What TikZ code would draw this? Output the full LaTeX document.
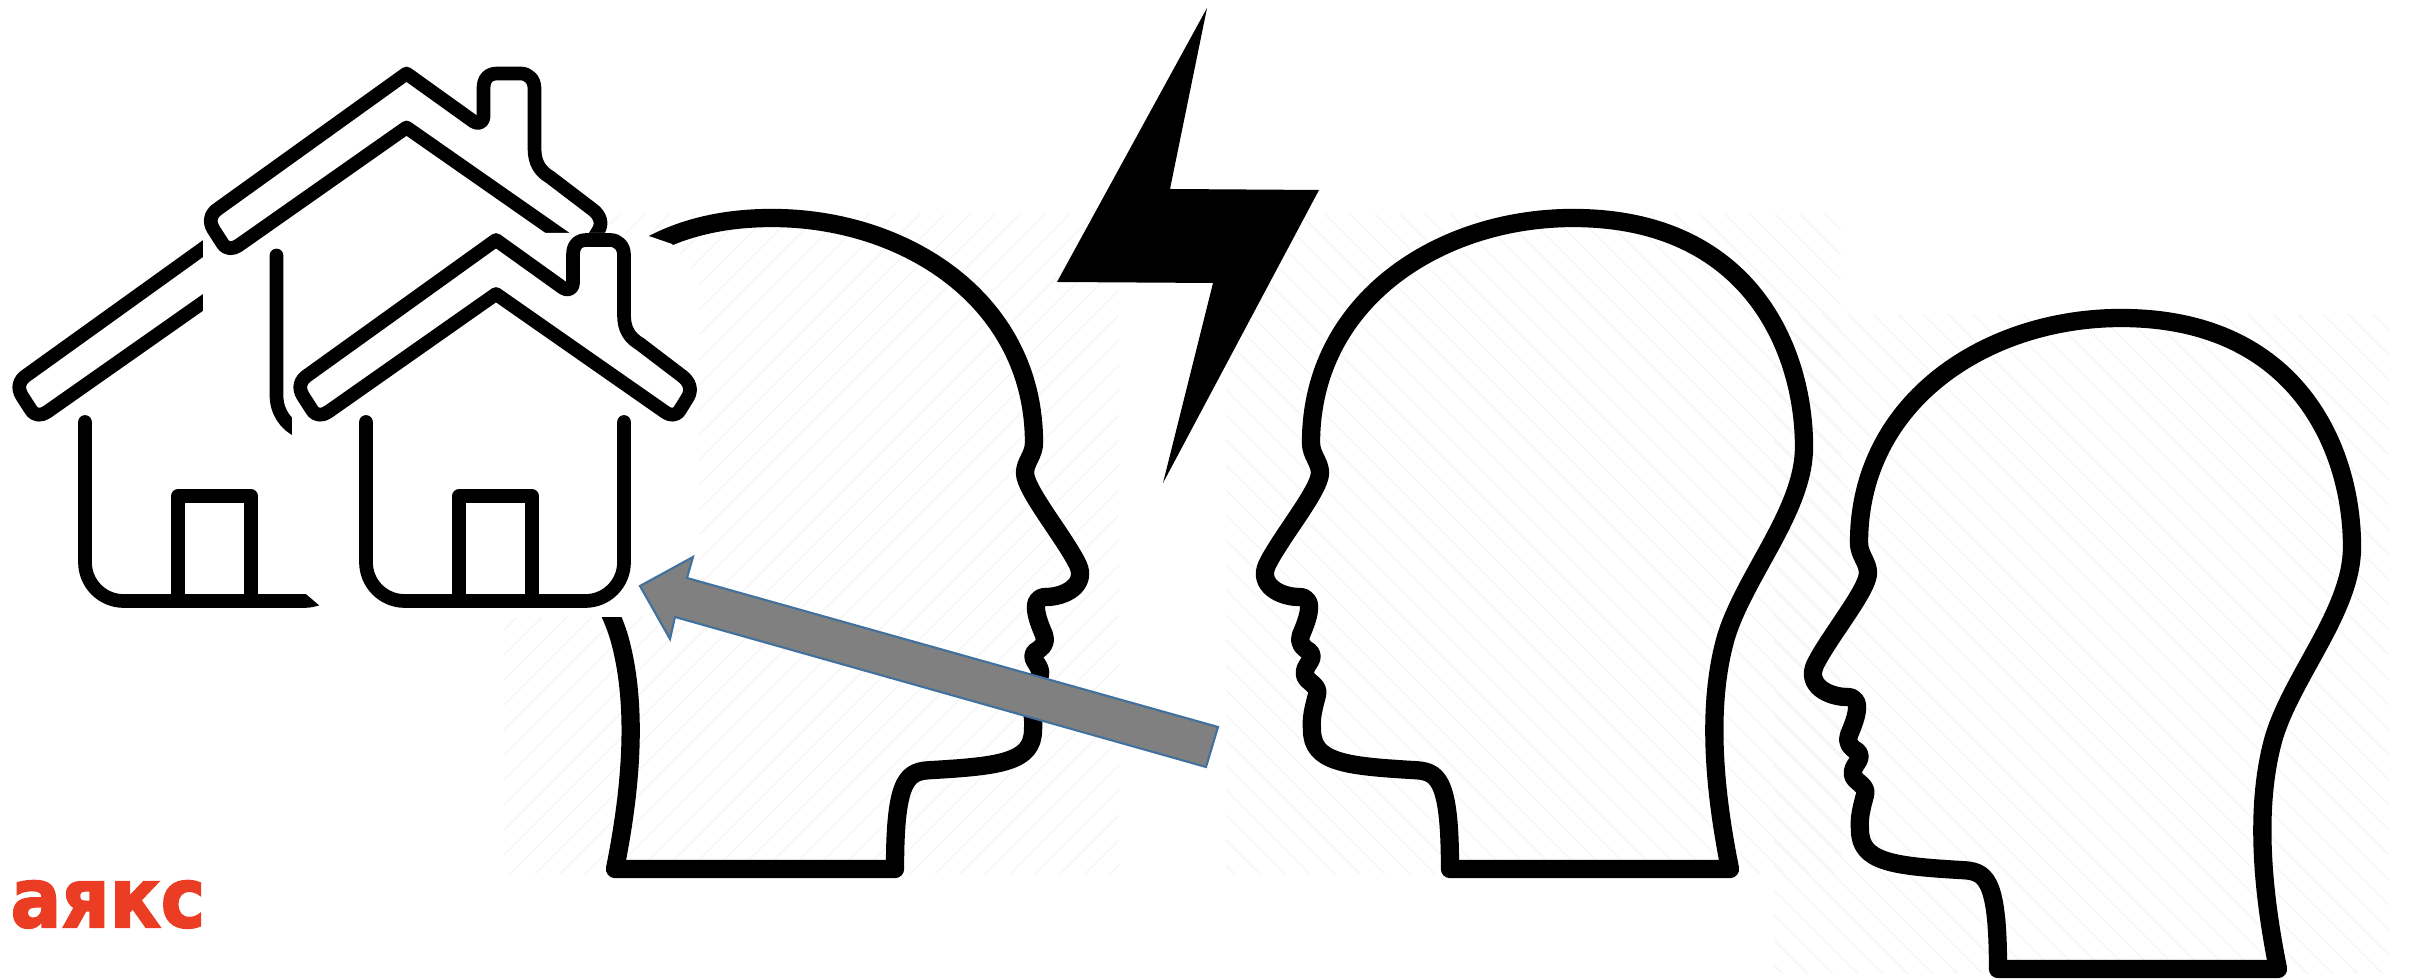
\documentclass[tikz,border=0pt]{standalone}
\usepackage{fontspec}
\newfontfamily\logofont[FakeBold=2.5]{DejaVu Sans Bold}
\definecolor{logored}{HTML}{EA3D24}
\definecolor{arrowedge}{HTML}{41719C}
\definecolor{arrowfill}{HTML}{808080}
\tikzset{
    headline/.style={line width=5.2pt, line join=round, line cap=round},
    houseline/.style={line width=3.9pt, line join=round, line cap=round},
    hatchline/.style={black!4, line width=0.35pt},
}
% faint backing of one head
\newcommand{\drawhatch}[1]{
    \begin{scope}[#1]
        \clip (1226,214) rectangle (1841,874);
        \foreach \k in {550,575,...,1850} {\draw[hatchline] (\k,214) -- (\k+660,874);}
    \end{scope}
}
% one head, facing left
\newcommand{\drawhead}[1]{
    \draw[headline, #1] (1450,869) -- (1730,869)
        .. controls (1712,780) and (1708,700) .. (1726,637)
        .. controls (1745,575) and (1804,510) .. (1804,447)
        .. controls (1804,350) and (1750,218) .. (1573,218)
        .. controls (1440,218) and (1311,300) .. (1311,443)
        .. controls (1311,455) and (1320,462) .. (1320,473)
        .. controls (1320,490) and (1280,538) .. (1267,565)
        .. controls (1258,585) and (1280,597) .. (1299,597)
        .. controls (1318,597) and (1305,625) .. (1301,635)
        .. controls (1298,645) and (1304,648) .. (1310,652)
        .. controls (1316,660) and (1303,665) .. (1305,675)
        .. controls (1306,682) and (1320,685) .. (1317,695)
        .. controls (1313,710) and (1311,718) .. (1312,730)
        .. controls (1312,762) and (1345,766) .. (1412,770)
        .. controls (1437,771) and (1450,775) .. (1450,869);
}
% one house, the front one at its own place
\newcommand{\drawhouse}[1]{
    \begin{scope}[#1]
        \draw[houseline] (496,240) -- (563,288) .. controls (570,292) and (573,287) .. (573,283) -- (573,255)
            .. controls (573,245) and (578,240) .. (587,240) -- (610,240) .. controls (618,240) and (624,246) .. (624,255)
            -- (624,315) .. controls (624,330) and (630,338) .. (640,344) -- (682,376)
            .. controls (690,382) and (692,390) .. (688,397) -- (680,410) .. controls (676,416) and (671,416) .. (665,412)
            -- (496,294) -- (328,412) .. controls (322,416) and (316,416) .. (312,410) -- (303,396)
            .. controls (298,388) and (300,380) .. (308,375) -- cycle;
        \draw[houseline, rounded corners=11pt] (366,422) -- (366,601) -- (624,601) -- (624,422);
        \draw[houseline] (459,601) -- (459,496) -- (532,496) -- (532,601);
    \end{scope}
}
\begin{document}
\begin{tikzpicture}[x=0.01cm, y=-0.01cm]
    \useasboundingbox (0,0) rectangle (2412,980);
    % Backing
    \drawhatch{shift={(2345,0)}, xscale=-1}
    \drawhatch{}
    \drawhatch{shift={(548,100)}}
    % Heads
    \begin{scope}[shift={(2345,0)}, xscale=-1]
        \drawhead{}
    \end{scope}
    \drawhead{}
    \begin{scope}[shift={(548,100)}]
        \drawhead{}
    \end{scope}
    % Houses, each hiding what is behind it
    \drawhouse{shift={(-281,0)}}
    \fill[white] (203,40) rectangle (610,480);
    \drawhouse{shift={(-89.5,-166.5)}}
    \fill[white] (292,233) -- (640,233) -- (672,244) -- (699,280) -- (699,617) -- (333,617) -- (292,582) -- cycle;
    \drawhouse{}
    % Lightning
    \fill[black] (1207,8) -- (1170,189) -- (1319,190) -- (1163,483) -- (1213,283) -- (1057,282) -- cycle;
    % Arrow
    \draw[arrowedge, fill=arrowfill, line width=0.6pt] (640,586) -- (693,557) -- (687,578) -- (1218,727) -- (1206,767) -- (675,617) -- (670,639) -- cycle;
    % Logo
    \node[logored, font=\logofont\fontsize{23.5}{24}\selectfont, xscale=0.91, inner sep=0, anchor=base west] (logo) at (10,927) {аякс};
\end{tikzpicture}
\end{document}
